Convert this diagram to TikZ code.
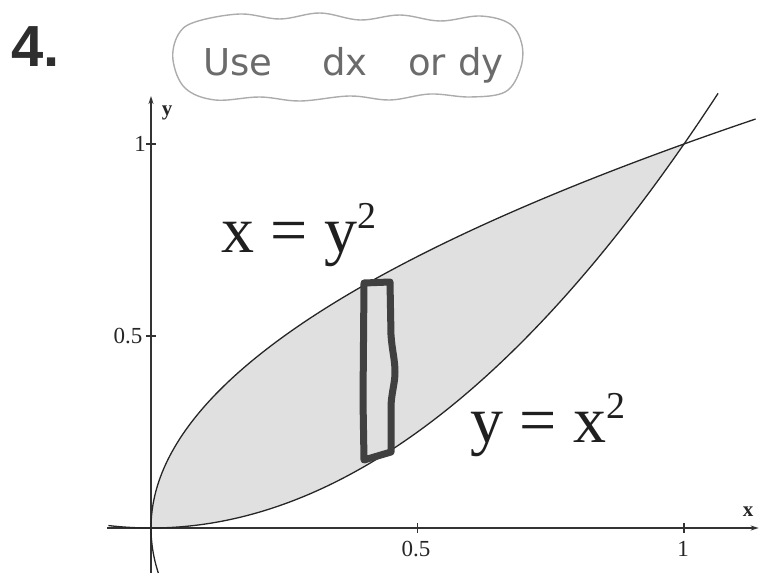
\documentclass[tikz,border=0pt]{standalone}
\usepackage{fontspec}
\setmainfont{Liberation Serif}
\newfontfamily\numfont{Liberation Sans}
\newfontfamily\handfont{DejaVu Sans}
\usetikzlibrary{arrows.meta}
\begin{document}
\begin{tikzpicture}[x=1pt,y=-1pt,
  axis/.style={line width=1.6pt, draw=black!80, -{Stealth[length=8pt,width=5pt]}},
  curve/.style={line width=1.3pt, draw=black!85},
  tickmark/.style={line width=1.2pt, draw=black!80},
  ticklabel/.style={inner sep=0pt, font=\fontsize{23}{23}\selectfont, text=black!85},
  axislabel/.style={inner sep=0pt, font=\fontsize{21}{21}\selectfont\bfseries, text=black!85},
  eqlabel/.style={inner sep=0pt, anchor=base west, font=\fontsize{66}{66}\selectfont, text=black!88},
  hand/.style={inner sep=0pt, anchor=base, font=\handfont\fontsize{37}{37}\selectfont, text=black!58},
  cloud/.style={draw=gray!65, line width=1.4pt},
  stripbox/.style={line width=7pt, draw=black!75, line join=round, line cap=round},
]
\useasboundingbox (0,0) rectangle (760,585);

% problem number
\node[inner sep=0pt, anchor=base west, font=\numfont\bfseries\fontsize{58}{58}\selectfont, text=black!82] (num) at (11,67) {4.};

% cloud with note
\draw[cloud] plot[smooth cycle, tension=0.6] coordinates {
  (195,22) (240,14) (280,19) (320,13) (360,20) (400,15) (440,21) (480,16) (510,24)
  (522,45) (520,70) (505,92) (470,97) (430,94) (390,100) (350,96) (300,101)
  (260,97) (215,100) (185,88) (173,60) (178,35)};
\node[hand] (wUse) at (238,76) {Use};
\node[hand] (wdx) at (345,76) {dx};
\node[hand] (wor) at (427,76) {or};
\node[hand] (wdy) at (481,76) {dy};

% plot
\begin{scope}[shift={(151pt,-528pt)}, x=533pt, y=384pt]
  \fill[gray!24] plot[domain=0:1,samples=80] ({\x*\x},\x) -- plot[domain=1:0,samples=80] (\x,{\x*\x}) -- cycle;
  \draw[axis] (-0.082,0) -- (1.14,0);
  \draw[axis] (0,-0.117) -- (0,1.125);
  \draw[tickmark] (0.5,0) ++(0,-5pt) -- ++(0,10pt);
  \draw[tickmark] (1,0) ++(0,-5pt) -- ++(0,10pt);
  \draw[tickmark] (0,0.5) ++(-5pt,0) -- ++(10pt,0);
  \draw[tickmark] (0,1) ++(-5pt,0) -- ++(10pt,0);
  \draw[curve] plot[domain=-0.117:1.066,samples=120,smooth] ({\x*\x},\x);
  \draw[curve] plot[domain=-0.08:1.064,samples=120,smooth] (\x,{\x*\x});
\end{scope}

% tick and axis labels
\node[ticklabel] (lx05) at (416,549) {0.5};
\node[ticklabel] (lx1) at (683,549) {1};
\node[ticklabel] (ly05) at (128,336) {0.5};
\node[ticklabel] (ly1) at (140,144) {1};
\node[axislabel] (ly) at (167,113) {y};
\node[axislabel] (lx) at (748,512) {x};

% equations
\node[eqlabel] (eq1) at (221,253) {x = y\raisebox{24pt}{\fontsize{38}{38}\selectfont 2}};
\node[eqlabel] (eq2) at (470,442) {y = x\raisebox{24pt}{\fontsize{38}{38}\selectfont 2}};

% hand-drawn strip
\draw[stripbox] (364,283) -- (390,282) -- (391,335)
  .. controls (392,350) and (395,360) .. (395,372)
  .. controls (395,384) and (391,394) .. (391,408)
  -- (391,452) -- (364,460) -- (363,400) -- cycle;
\end{tikzpicture}
\end{document}
